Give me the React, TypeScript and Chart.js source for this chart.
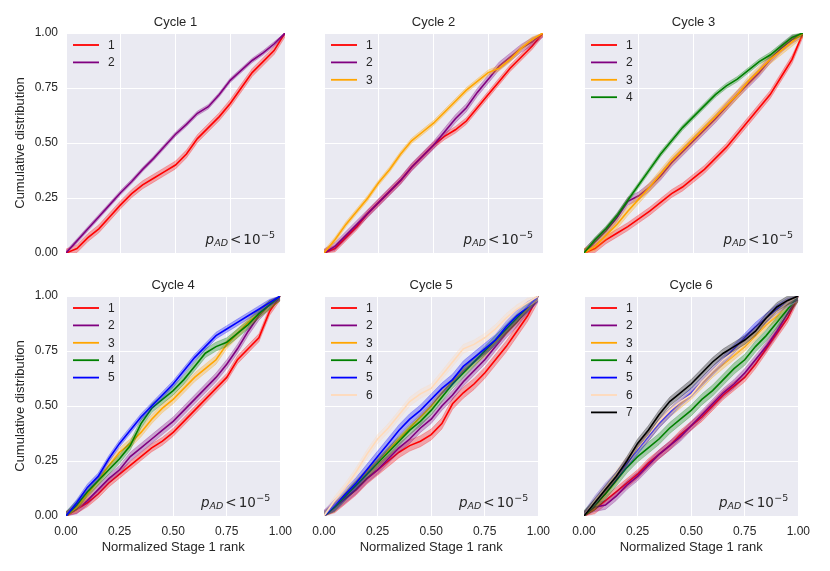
// App.tsx
import { useEffect, useRef } from "react";
import { Chart, registerables } from "chart.js";

Chart.register(...registerables);

// Normalized Stage 1 rank (x positions of the sampled CDF values)
const RANK = [0, 0.05, 0.1, 0.15, 0.2, 0.25, 0.3, 0.35, 0.4, 0.45, 0.5, 0.55, 0.6, 0.65, 0.7, 0.75, 0.8, 0.85, 0.9, 0.95, 1];
const TICKS = [0, 0.25, 0.5, 0.75, 1];

// Cycle 1
const C1_S1 = [0, 0.02, 0.07, 0.11, 0.165, 0.22, 0.27, 0.31, 0.34, 0.37, 0.4, 0.45, 0.52, 0.57, 0.62, 0.68, 0.75, 0.82, 0.87, 0.92, 1];
const C1_S2 = [0, 0.055, 0.11, 0.165, 0.22, 0.275, 0.325, 0.38, 0.43, 0.485, 0.54, 0.585, 0.635, 0.665, 0.72, 0.785, 0.83, 0.875, 0.91, 0.95, 1];

// Cycle 2
const C2_S1 = [0, 0.02, 0.07, 0.12, 0.18, 0.23, 0.28, 0.33, 0.39, 0.44, 0.49, 0.53, 0.56, 0.6, 0.66, 0.72, 0.78, 0.84, 0.89, 0.94, 1];
const C2_S2 = [0, 0.03, 0.08, 0.13, 0.18, 0.23, 0.28, 0.33, 0.39, 0.44, 0.49, 0.55, 0.61, 0.66, 0.73, 0.79, 0.85, 0.89, 0.93, 0.96, 1];
const C2_S3 = [0, 0.06, 0.13, 0.19, 0.25, 0.32, 0.38, 0.45, 0.51, 0.55, 0.59, 0.64, 0.69, 0.74, 0.78, 0.82, 0.84, 0.88, 0.93, 0.97, 1];

// Cycle 3
const C3_S1 = [0, 0.02, 0.06, 0.09, 0.12, 0.155, 0.19, 0.23, 0.27, 0.3, 0.34, 0.38, 0.43, 0.48, 0.54, 0.6, 0.66, 0.72, 0.8, 0.88, 1];
const C3_S2 = [0, 0.05, 0.1, 0.16, 0.235, 0.26, 0.3, 0.35, 0.41, 0.46, 0.51, 0.56, 0.61, 0.665, 0.72, 0.77, 0.82, 0.88, 0.93, 0.97, 1];
const C3_S3 = [0, 0.03, 0.08, 0.13, 0.19, 0.245, 0.3, 0.36, 0.42, 0.47, 0.52, 0.57, 0.62, 0.67, 0.72, 0.78, 0.83, 0.88, 0.92, 0.96, 1];
const C3_S4 = [0, 0.06, 0.11, 0.17, 0.24, 0.31, 0.38, 0.45, 0.51, 0.57, 0.62, 0.67, 0.72, 0.76, 0.79, 0.83, 0.87, 0.9, 0.94, 0.98, 1];

// Cycle 4
const C4_S1 = [0, 0.03, 0.06, 0.1, 0.15, 0.19, 0.23, 0.27, 0.31, 0.34, 0.38, 0.43, 0.48, 0.53, 0.58, 0.63, 0.71, 0.76, 0.81, 0.93, 1];
const C4_S2 = [0, 0.03, 0.07, 0.12, 0.17, 0.21, 0.27, 0.31, 0.35, 0.39, 0.43, 0.48, 0.53, 0.58, 0.63, 0.69, 0.76, 0.84, 0.91, 0.96, 1];
const C4_S3 = [0, 0.04, 0.1, 0.16, 0.23, 0.29, 0.33, 0.38, 0.44, 0.49, 0.53, 0.58, 0.63, 0.67, 0.71, 0.78, 0.83, 0.88, 0.92, 0.96, 1];
const C4_S4 = [0, 0.05, 0.11, 0.16, 0.21, 0.26, 0.32, 0.42, 0.49, 0.53, 0.57, 0.62, 0.68, 0.74, 0.77, 0.79, 0.83, 0.87, 0.92, 0.96, 1];
const C4_S5 = [0, 0.06, 0.13, 0.18, 0.26, 0.33, 0.39, 0.45, 0.5, 0.55, 0.6, 0.66, 0.72, 0.77, 0.82, 0.85, 0.88, 0.91, 0.94, 0.97, 1];

// Cycle 5
const C5_S1 = [0, 0.04, 0.08, 0.12, 0.17, 0.21, 0.25, 0.29, 0.32, 0.34, 0.37, 0.42, 0.51, 0.56, 0.6, 0.65, 0.71, 0.77, 0.84, 0.91, 1];
const C5_S2 = [0, 0.04, 0.08, 0.12, 0.17, 0.21, 0.26, 0.31, 0.35, 0.4, 0.44, 0.5, 0.55, 0.61, 0.66, 0.71, 0.77, 0.83, 0.88, 0.94, 1];
const C5_S3 = [0, 0.04, 0.1, 0.15, 0.2, 0.25, 0.3, 0.35, 0.4, 0.45, 0.5, 0.56, 0.61, 0.66, 0.7, 0.74, 0.79, 0.84, 0.89, 0.94, 1];
const C5_S4 = [0, 0.04, 0.09, 0.14, 0.19, 0.24, 0.29, 0.34, 0.39, 0.43, 0.48, 0.54, 0.6, 0.65, 0.7, 0.75, 0.8, 0.85, 0.9, 0.95, 1];
const C5_S5 = [0, 0.05, 0.1, 0.15, 0.21, 0.27, 0.33, 0.39, 0.44, 0.48, 0.53, 0.58, 0.62, 0.68, 0.72, 0.76, 0.8, 0.86, 0.91, 0.95, 1];
const C5_S6 = [0, 0.07, 0.13, 0.2, 0.28, 0.35, 0.4, 0.46, 0.52, 0.555, 0.58, 0.64, 0.7, 0.76, 0.78, 0.81, 0.85, 0.9, 0.94, 0.97, 1];

// Cycle 6
const C6_S1 = [0, 0.03, 0.07, 0.11, 0.15, 0.19, 0.24, 0.28, 0.32, 0.37, 0.41, 0.45, 0.5, 0.55, 0.59, 0.63, 0.69, 0.76, 0.83, 0.9, 1];
const C6_S2 = [0, 0.04, 0.05, 0.09, 0.14, 0.18, 0.23, 0.28, 0.32, 0.36, 0.41, 0.46, 0.51, 0.56, 0.6, 0.65, 0.71, 0.77, 0.84, 0.92, 1];
const C6_S3 = [0, 0.05, 0.11, 0.17, 0.24, 0.31, 0.36, 0.42, 0.47, 0.51, 0.55, 0.6, 0.65, 0.69, 0.73, 0.77, 0.82, 0.87, 0.91, 0.96, 1];
const C6_S4 = [0, 0.05, 0.1, 0.16, 0.22, 0.27, 0.31, 0.35, 0.4, 0.44, 0.48, 0.53, 0.57, 0.62, 0.67, 0.71, 0.77, 0.82, 0.88, 0.94, 1];
const C6_S5 = [0, 0.07, 0.13, 0.18, 0.24, 0.3, 0.36, 0.42, 0.47, 0.52, 0.56, 0.61, 0.66, 0.71, 0.76, 0.81, 0.86, 0.9, 0.94, 0.97, 1];
const C6_S6 = [0, 0.07, 0.13, 0.19, 0.25, 0.31, 0.37, 0.43, 0.48, 0.52, 0.55, 0.61, 0.66, 0.71, 0.75, 0.79, 0.84, 0.89, 0.93, 0.97, 1];
const C6_S7 = [0, 0.06, 0.12, 0.18, 0.25, 0.33, 0.39, 0.46, 0.52, 0.56, 0.6, 0.65, 0.7, 0.74, 0.77, 0.8, 0.84, 0.9, 0.95, 0.98, 1];

// half-width of the shaded band around each curve
const BAND_1 = [0.018, 0.01];
const BAND_2 = [0.015, 0.018, 0.012];
const BAND_3 = [0.018, 0.018, 0.02, 0.012];
const BAND_4 = [0.018, 0.02, 0.02, 0.02, 0.015];
const BAND_5 = [0.025, 0.02, 0.015, 0.02, 0.025, 0.02];
const BAND_6 = [0.02, 0.02, 0.02, 0.025, 0.02, 0.02, 0.02];

const SERIES_COLORS = ["#ff0000", "#800080", "#ffa500", "#008000", "#0000ff", "#ffdab9", "#000000"];

const PANELS = [
  { title: "Cycle 1", series: [C1_S1, C1_S2], bands: BAND_1 },
  { title: "Cycle 2", series: [C2_S1, C2_S2, C2_S3], bands: BAND_2 },
  { title: "Cycle 3", series: [C3_S1, C3_S2, C3_S3, C3_S4], bands: BAND_3 },
  { title: "Cycle 4", series: [C4_S1, C4_S2, C4_S3, C4_S4, C4_S5], bands: BAND_4 },
  { title: "Cycle 5", series: [C5_S1, C5_S2, C5_S3, C5_S4, C5_S5, C5_S6], bands: BAND_5 },
  { title: "Cycle 6", series: [C6_S1, C6_S2, C6_S3, C6_S4, C6_S5, C6_S6, C6_S7], bands: BAND_6 },
];

const FONT = "'Liberation Sans', Arial, sans-serif";
const MATH_FONT = "'DejaVu Sans', sans-serif";
const TEXT = "#262626";
const PLOT_BG = "#eaeaf2";

// cell geometry
const CELL_W = 300;
const CELL_H = 295;
const AXIS_W = 66;
const AXIS_H = 42;
const PAD_TOP = 33;
const PAD_RIGHT = 15;
const COL_X = [0, 258, 518];
const ROW_Y = [0, 263];

function rgba(hex: string, a: number) {
  const n = parseInt(hex.slice(1), 16);
  return `rgba(${(n >> 16) & 255}, ${(n >> 8) & 255}, ${n & 255}, ${a})`;
}

type PanelProps = {
  title: string;
  series: number[][];
  bands: number[];
  col: number;
  row: number;
};

function Panel({ title, series, bands, col, row }: PanelProps) {
  const canvasRef = useRef<HTMLCanvasElement>(null);

  useEffect(() => {
    const canvas = canvasRef.current;
    if (!canvas) return;

    const datasets: any[] = [];
    series.forEach((vals, k) => {
      const color = SERIES_COLORS[k];
      const w = bands[k];
      // upper edge of band
      datasets.push({
        data: RANK.map((x, i) => ({ x, y: Math.min(1, vals[i] + w) })),
        borderWidth: 0.8,
        borderColor: rgba(color, 0.3),
        pointRadius: 0,
        fill: false,
        order: -3 * k,
      });
      // lower edge, filled up to the upper one
      datasets.push({
        data: RANK.map((x, i) => ({ x, y: Math.max(0, vals[i] - w) })),
        borderWidth: 0.8,
        borderColor: rgba(color, 0.3),
        backgroundColor: rgba(color, 0.3),
        pointRadius: 0,
        fill: "-1",
        order: -3 * k - 1,
      });
      // the curve itself
      datasets.push({
        label: String(k + 1),
        data: RANK.map((x, i) => ({ x, y: vals[i] })),
        borderColor: color,
        borderWidth: 1.6,
        pointRadius: 0,
        fill: false,
        order: -3 * k - 2,
      });
    });

    const decor = {
      id: "decor",
      beforeDraw(chart: Chart) {
        const { ctx, chartArea: a } = chart;
        ctx.save();
        ctx.fillStyle = PLOT_BG;
        ctx.fillRect(a.left, a.top, a.width, a.height);
        ctx.restore();
      },
      afterDraw(chart: Chart) {
        const { ctx, chartArea: a } = chart;
        ctx.save();
        ctx.fillStyle = TEXT;

        // title
        ctx.font = `13px ${FONT}`;
        ctx.textAlign = "center";
        ctx.textBaseline = "middle";
        ctx.fillText(title, (a.left + a.right) / 2, a.top - 11);

        // axis labels
        if (row === 1) {
          ctx.fillText("Normalized Stage 1 rank", (a.left + a.right) / 2, a.bottom + 31);
        }
        if (col === 0) {
          ctx.save();
          ctx.translate(a.left - 46, (a.top + a.bottom) / 2);
          ctx.rotate(-Math.PI / 2);
          ctx.fillText("Cumulative distribution", 0, 0);
          ctx.restore();
        }

        // legend
        ctx.font = `12px ${FONT}`;
        ctx.textAlign = "left";
        series.forEach((_, k) => {
          const y = a.top + 12 + k * 17.4;
          ctx.strokeStyle = SERIES_COLORS[k];
          ctx.lineWidth = 1.8;
          ctx.beginPath();
          ctx.moveTo(a.left + 7, y);
          ctx.lineTo(a.left + 33, y);
          ctx.stroke();
          ctx.fillText(String(k + 1), a.left + 42, y + 0.5);
        });

        // p_AD < 10^-5
        const big = 13.5;
        const small = 9.5;
        const parts = [
          { t: "p", font: `italic ${big}px ${MATH_FONT}`, dy: 0, gap: 0 },
          { t: "AD", font: `italic ${small}px ${MATH_FONT}`, dy: 2.5, gap: 0 },
          { t: "<", font: `${big}px ${MATH_FONT}`, dy: 0, gap: 2 },
          { t: "10", font: `${big}px ${MATH_FONT}`, dy: 0, gap: 2 },
          { t: "\u22125", font: `${small}px ${MATH_FONT}`, dy: -6, gap: 0.5 },
        ];
        let total = 0;
        const widths = parts.map((p) => {
          ctx.font = p.font;
          const w = ctx.measureText(p.t).width;
          total += w + p.gap;
          return w;
        });
        let x = a.right - 10 - total;
        const base = a.bottom - 9.5;
        ctx.textBaseline = "alphabetic";
        parts.forEach((p, i) => {
          x += p.gap;
          ctx.font = p.font;
          ctx.fillText(p.t, x, base + p.dy);
          x += widths[i];
        });

        ctx.restore();
      },
    };

    const tickFont = { family: FONT, size: 12 };

    const chart = new Chart(canvas, {
      type: "line",
      data: { datasets },
      options: {
        responsive: false,
        animation: false,
        layout: { padding: { top: PAD_TOP, right: PAD_RIGHT, left: 0, bottom: 0 } },
        plugins: {
          legend: { display: false },
          tooltip: { enabled: false },
        },
        elements: { line: { tension: 0 } },
        scales: {
          x: {
            type: "linear",
            min: 0,
            max: 1,
            border: { display: false },
            grid: { color: "#ffffff", lineWidth: 1, drawTicks: false },
            afterBuildTicks: (scale: any) => {
              scale.ticks = TICKS.map((v) => ({ value: v }));
            },
            afterFit: (scale: any) => {
              scale.height = AXIS_H;
            },
            ticks: {
              display: row === 1,
              padding: 8,
              color: TEXT,
              font: tickFont,
              maxRotation: 0,
              autoSkip: false,
              callback: (v: any) => Number(v).toFixed(2),
            },
          },
          y: {
            type: "linear",
            min: 0,
            max: 1,
            border: { display: false },
            grid: { color: "#ffffff", lineWidth: 1, drawTicks: false },
            afterBuildTicks: (scale: any) => {
              scale.ticks = TICKS.map((v) => ({ value: v }));
            },
            afterFit: (scale: any) => {
              scale.width = AXIS_W;
            },
            ticks: {
              display: col === 0,
              padding: 8,
              color: TEXT,
              font: tickFont,
              autoSkip: false,
              callback: (v: any) => Number(v).toFixed(2),
            },
          },
        },
      },
      plugins: [decor],
    });

    return () => chart.destroy();
  }, [title, series, bands, col, row]);

  return (
    <canvas
      ref={canvasRef}
      width={CELL_W}
      height={CELL_H}
      style={{
        position: "absolute",
        left: COL_X[col],
        top: ROW_Y[row],
        width: CELL_W,
        height: CELL_H,
      }}
    />
  );
}

export default function App() {
  return (
    <div style={{ position: "absolute", left: 0, top: 0, width: 830, height: 571, background: "#ffffff" }}>
      {PANELS.map((p, i) => (
        <Panel key={p.title} title={p.title} series={p.series} bands={p.bands} col={i % 3} row={Math.floor(i / 3)} />
      ))}
    </div>
  );
}
